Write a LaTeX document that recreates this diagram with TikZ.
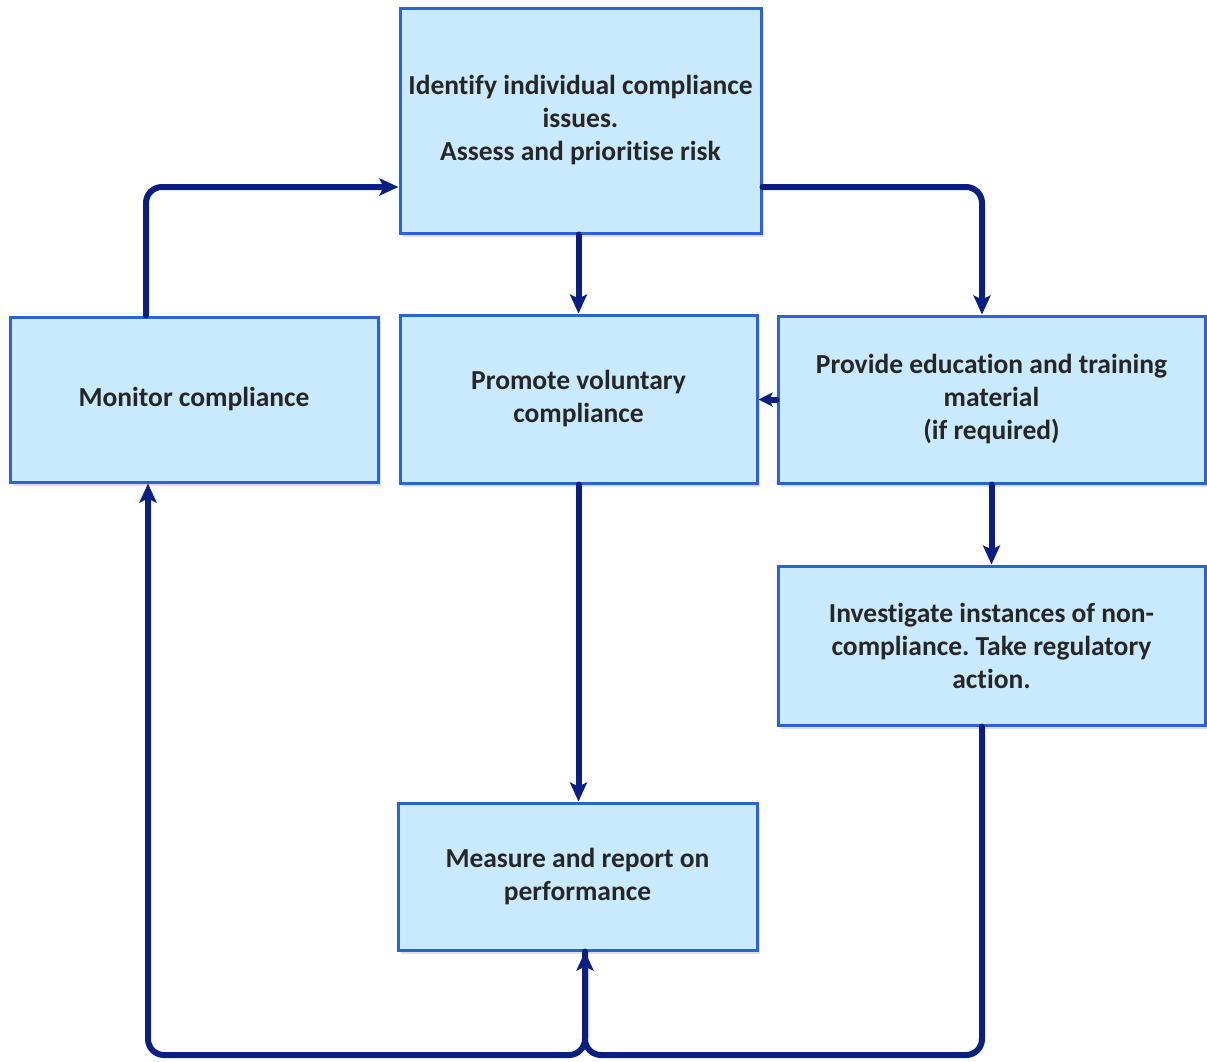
\documentclass[tikz,border=0pt]{standalone}
\usepackage{fontspec}
\setmainfont{Carlito}[Ligatures=NoCommon]
\usetikzlibrary{arrows.meta,shadows}
\definecolor{boxfill}{HTML}{C9E9FD}
\definecolor{boxline}{HTML}{2B62D6}
\definecolor{navy}{HTML}{0B1F80}
\definecolor{txt}{HTML}{262626}
\frenchspacing
\begin{document}
\begin{tikzpicture}[x=1pt,y=-1pt,
  box/.style={draw=boxline,line width=3pt,fill=boxfill,align=center,text=txt,
    font=\fontsize{27.5}{33}\selectfont\bfseries\frenchspacing,inner sep=0pt,
    drop shadow={shadow xshift=3pt,shadow yshift=-4pt,opacity=0.25,fill=gray}},
  conn/.style={draw=navy,line width=6pt,line cap=round,rounded corners=16pt,
    -{Stealth[length=19pt,width=17pt,inset=4pt]}}]
\useasboundingbox (0,0) rectangle (1207,1061);
\node[box,minimum width=361pt,minimum height=225pt] (id) at (580.5,120.5)
  {Identify individual compliance\\issues.\\Assess and prioritise risk};
\node[box,minimum width=368pt,minimum height=165pt] (mon) at (194,399.5)
  {Monitor compliance};
\node[box,minimum width=357pt,minimum height=168pt] (pro) at (578.5,399)
  {Promote voluntary\\compliance};
\node[box,minimum width=427pt,minimum height=167pt] (edu) at (991.5,399.5)
  {Provide education and training\\material\\(if required)};
\node[box,minimum width=427pt,minimum height=159pt] (inv) at (991.5,645.5)
  {Investigate instances of non-\\compliance. Take regulatory\\action.};
\node[box,minimum width=359pt,minimum height=147pt] (mea) at (577.5,876.5)
  {Measure and report on\\performance};
\coordinate (jn) at (585,1055);
\draw[conn] ([xshift=-48pt]mon.north) |- ([yshift=-66.5pt]id.west);
\draw[conn] (pro.north |- id.south) -- (pro.north);
\draw[conn] ([yshift=-66.5pt]id.east) -| ([xshift=-9.5pt]edu.north);
\draw[conn,-{Stealth[length=14pt,width=14pt,inset=3pt]}] (edu.west) -- (edu.west -| pro.east);
\draw[conn] (edu.south) -- (inv.north);
\draw[conn] (pro.south) -- (pro.south |- mea.north);
\draw[conn] ([xshift=-9.5pt]inv.south) |- (jn) -- ([xshift=7.5pt]mea.south);
\draw[conn] ([xshift=7.5pt]mea.south) -- (jn) -| ([xshift=-46pt]mon.south);
\end{tikzpicture}
\end{document}
